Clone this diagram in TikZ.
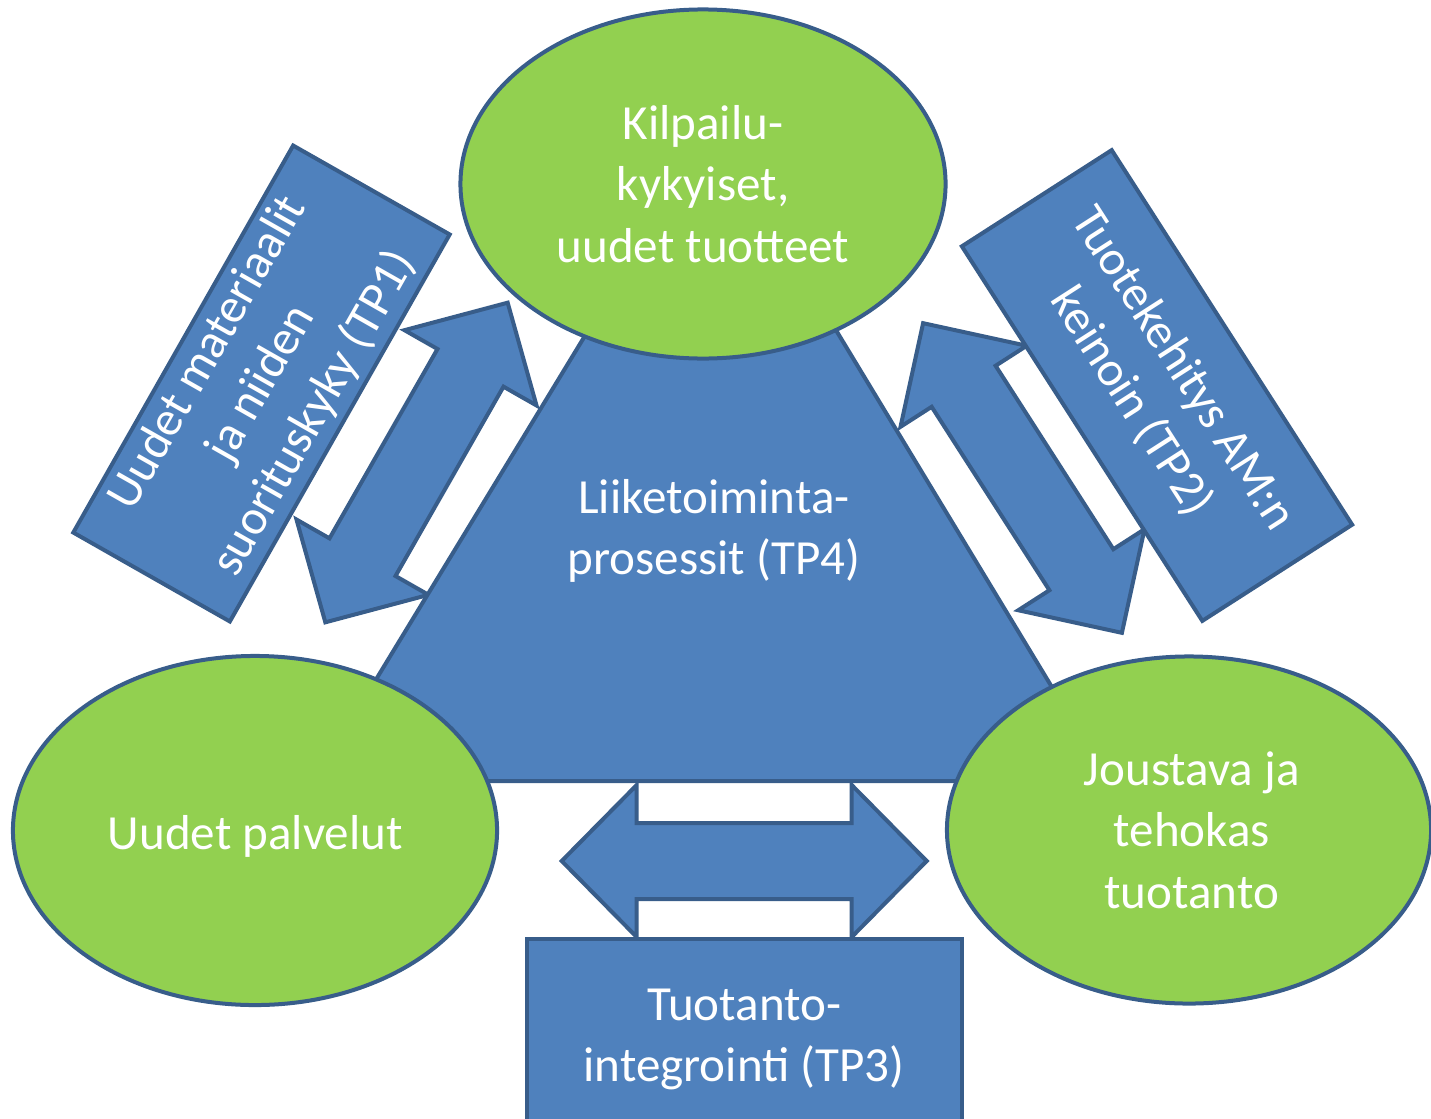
\documentclass[tikz,border=0pt]{standalone}
\usepackage{fontspec}
\setmainfont{Carlito}
\usetikzlibrary{shapes.geometric}
\definecolor{bfill}{HTML}{4F81BD}
\definecolor{bline}{HTML}{385D8A}
\definecolor{gfill}{HTML}{92D050}
\newcommand{\bigtxt}{\fontsize{34.9pt}{43.6pt}\selectfont}
\begin{document}
\begin{tikzpicture}[x=0.025cm, y=-0.025cm,
  bluefig/.style={fill=bfill, draw=bline, line width=0.1cm},
  greenell/.style={ellipse, fill=gfill, draw=bline, line width=0.1cm, inner sep=0pt},
  bluebox/.style={rectangle, fill=bfill, draw=bline, line width=0.1cm, inner sep=0pt, text=white, align=center, font=\bigtxt},
  lbl/.style={text=white, align=center, font=\bigtxt, inner sep=0pt}]
\useasboundingbox (0,0) rectangle (1431,1118);
\clip (0,0) rectangle (1431,1118);
% double arrows (behind)
\begin{scope}[shift={(416.5,462.5)}, rotate=60.3]
\draw[bluefig] (184,0) -- (109,76) -- (109,38) -- (-109,38) -- (-109,76) -- (-184,0) -- (-109,-76) -- (-109,-38) -- (109,-38) -- (109,-76) -- cycle;
\end{scope}
\begin{scope}[shift={(1022.5,478)}, rotate=-57.3]
\draw[bluefig] (184,0) -- (109,75) -- (109,38) -- (-109,38) -- (-109,75) -- (-184,0) -- (-109,-75) -- (-109,-38) -- (109,-38) -- (109,-75) -- cycle;
\end{scope}
\begin{scope}[shift={(744.2,861)}]
\draw[bluefig] (182.5,0) -- (107.5,76) -- (107.5,38) -- (-107.5,38) -- (-107.5,76) -- (-182.5,0) -- (-107.5,-76) -- (-107.5,-38) -- (107.5,-38) -- (107.5,-76) -- cycle;
\end{scope}
% triangle
\draw[bluefig] (712.5,126) -- (314.3,781) -- (1108.7,781) -- cycle;
% rotated boxes
\node[bluebox, rotate=60.4, minimum width=11.125cm, minimum height=4.5cm] (tp1) at (261.5,383.5) {Uudet materiaalit\\ja niiden\\suorituskyky (TP1)};
\node[bluebox, rotate=-57.3, minimum width=11.125cm, minimum height=4.45cm] (tp2) at (1157,385.5) {Tuotekehitys AM:n\\keinoin (TP2)};
\node[bluebox, minimum width=10.875cm, minimum height=5.02cm] (tp3) at (744.2,1039.6) {Tuotanto-\\integrointi (TP3)};
% ellipses
\node[greenell, minimum width=12.125cm, minimum height=8.725cm] (etop) at (703,184) {};
\node[greenell, minimum width=12.1cm, minimum height=8.725cm] (eleft) at (255,830.5) {};
\node[greenell, minimum width=12.1cm, minimum height=8.675cm] (eright) at (1189,830) {};
% labels
\node[lbl] (ltop) at (703,184) {Kilpailu-\\kykyiset,\\uudet tuotteet};
\node[lbl] (lleft) at (255.3,836) {Uudet palvelut};
\node[lbl] (lright) at (1191.7,830) {Joustava ja\\tehokas\\tuotanto};
\node[lbl] (ltp4) at (714,531) {Liiketoiminta-\\prosessit (TP4)};
\end{tikzpicture}
\end{document}
